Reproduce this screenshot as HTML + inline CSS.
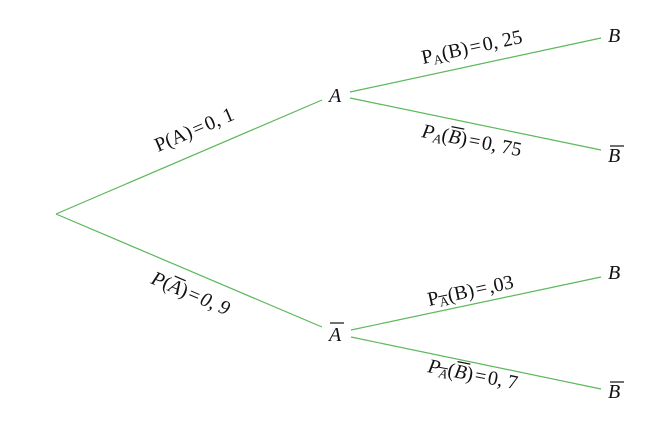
<!DOCTYPE html>
<html><head><meta charset="utf-8"><style>
html,body{margin:0;padding:0;background:#fff;}
svg{display:block;}
text{font-family:"Liberation Serif",serif;fill:#111;}
.i{font-style:italic;}
</style></head><body>
<svg width="672" height="429" viewBox="0 0 672 429" xmlns="http://www.w3.org/2000/svg">
<g stroke="#5cb85c" stroke-width="1.2" fill="none">
<line x1="56" y1="214" x2="322" y2="100"/>
<line x1="56" y1="214" x2="322" y2="327"/>
<line x1="350" y1="92" x2="601" y2="38"/>
<line x1="350" y1="98" x2="601" y2="150"/>
<line x1="351" y1="330" x2="601" y2="277"/>
<line x1="351" y1="337" x2="601" y2="389"/>
</g>
<text x="329" y="102" font-size="20" class="i">A</text>
<text x="329" y="341" font-size="20" class="i">A</text>
<line x1="330" y1="323" x2="344" y2="323" stroke="#111" stroke-width="1.2"/>
<text x="608" y="42" font-size="20" class="i">B</text>
<text x="608" y="162" font-size="20" class="i">B</text>
<line x1="610" y1="146" x2="624" y2="146" stroke="#111" stroke-width="1.2"/>
<text x="608" y="279" font-size="20" class="i">B</text>
<text x="608" y="398" font-size="20" class="i">B</text>
<line x1="610" y1="382" x2="624" y2="382" stroke="#111" stroke-width="1.2"/>
<text font-size="20" transform="translate(158,152) rotate(-23)">P(A)<tspan dx="2">=</tspan><tspan dx="2">0, 1</tspan></text>
<g transform="translate(150,283) rotate(23)">
<text font-size="20"><tspan class="i">P</tspan>(<tspan class="i">A</tspan>)<tspan dx="2">=</tspan><tspan dx="2" class="i">0, 9</tspan></text>
<line x1="20" y1="-16" x2="32" y2="-16" stroke="#111" stroke-width="1.2"/>
</g>
<g transform="translate(423,64) rotate(-12)">
<text font-size="20">P<tspan font-size="13" dy="3">A</tspan><tspan dy="-3">(B)</tspan><tspan dx="2">=</tspan><tspan dx="2">0, 25</tspan></text>
</g>
<g transform="translate(421,137) rotate(11)">
<text font-size="20"><tspan class="i">P</tspan><tspan font-size="13" dy="3" class="i">A</tspan><tspan dy="-3">(</tspan><tspan class="i">B</tspan>)<tspan dx="2">=</tspan><tspan dx="2">0, 75</tspan></text>
<line x1="28" y1="-16" x2="41" y2="-16" stroke="#111" stroke-width="1.2"/>
</g>
<g transform="translate(429,306) rotate(-12)">
<text font-size="20">P<tspan font-size="13" dy="3">A</tspan><tspan dy="-3">(B)</tspan><tspan dx="2">=</tspan><tspan dx="2">,03</tspan></text>
<line x1="11" y1="-7" x2="20" y2="-7" stroke="#111" stroke-width="1"/>
</g>
<g transform="translate(427,372) rotate(11)">
<text font-size="20"><tspan class="i">P</tspan><tspan font-size="13" dy="3" class="i">A</tspan><tspan dy="-3">(</tspan><tspan class="i">B</tspan>)<tspan dx="2">=</tspan><tspan dx="2">0, 7</tspan></text>
<line x1="11" y1="-7" x2="20" y2="-7" stroke="#111" stroke-width="1"/>
<line x1="28" y1="-16" x2="41" y2="-16" stroke="#111" stroke-width="1.2"/>
</g>
</svg>
</body></html>
